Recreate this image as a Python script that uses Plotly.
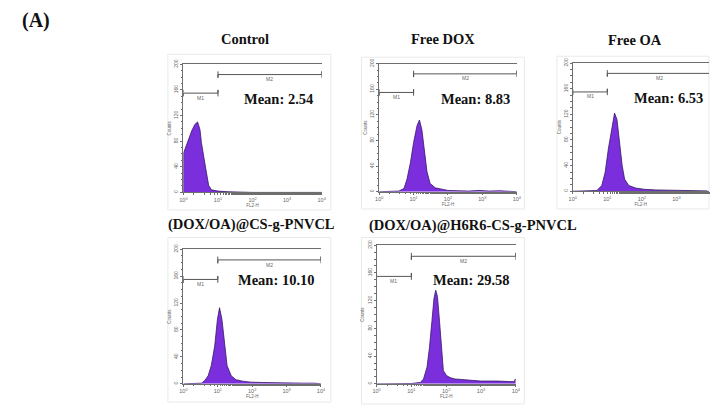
import math
import plotly.graph_objects as go

W, H = 714, 407

# ---- data (log10 FL2-H channel position, counts) ----
titles = ["Control", "Free DOX", "Free OA", "(DOX/OA)@CS-g-PNVCL", "(DOX/OA)@H6R6-CS-g-PNVCL"]
means = ["2.54", "8.83", "6.53", "10.10", "29.58"]

ctrl_log = [0.0, 0.005, 0.05, 0.14, 0.24, 0.33, 0.41, 0.48, 0.52, 0.60, 0.67, 0.73, 0.81, 1.0, 1.29, 1.6, 2.0, 4.0]
ctrl_cnt = [0, 62, 68, 83, 96, 106, 110, 98, 78, 52, 27, 11, 4, 2, 1, 0.5, 0, 0]

dox_log = [0.0, 0.57, 0.72, 0.81, 0.91, 1.0, 1.1, 1.17, 1.24, 1.32, 1.39, 1.48, 1.63, 1.82, 2.0, 2.3, 2.6, 2.9, 3.2, 3.5, 3.8, 4.0]
dox_cnt = [0, 1, 5, 20, 46, 77, 103, 112, 97, 62, 31, 13, 6, 4, 2, 1.5, 1, 2, 1, 1.5, 1, 0]

oa_log = [0.0, 0.7, 0.84, 0.94, 1.03, 1.14, 1.21, 1.28, 1.36, 1.43, 1.5, 1.62, 1.82, 2.06, 2.4, 2.8, 3.2, 3.5, 3.9]
oa_cnt = [0, 1, 9, 30, 66, 102, 122, 112, 76, 40, 19, 9, 5, 3, 2, 1.5, 1, 1, 0.5]

cs_log = [0.0, 0.53, 0.62, 0.72, 0.81, 0.91, 0.99, 1.05, 1.12, 1.2, 1.27, 1.39, 1.53, 1.72, 1.96, 2.3, 2.6, 2.9, 3.2, 3.5, 3.8, 4.0]
cs_cnt = [0, 1, 5, 12, 27, 56, 96, 113, 96, 56, 27, 12, 6, 4, 2.5, 2, 1.5, 2, 1.5, 1, 1, 0]

h6_log = [0.0, 1.0, 1.26, 1.35, 1.45, 1.52, 1.59, 1.65, 1.70, 1.75, 1.81, 1.87, 1.92, 2.01, 2.11, 2.25, 2.44, 2.72, 3.0, 3.48, 3.95, 3.99, 4.0]
h6_cnt = [0, 0.5, 2, 7, 24, 52, 90, 123, 135, 126, 90, 43, 19, 12, 9, 7, 6, 5, 4, 4, 3, 7, 7]

series = [(ctrl_log, ctrl_cnt), (dox_log, dox_cnt), (oa_log, oa_cnt), (cs_log, cs_cnt), (h6_log, h6_cnt)]

# gates (FL2-H limits) and their count level
gate_M1 = [1, 10]
gate_M2 = [10, 10000]
gate_levels = [155, 184]
gate_labels = ["M1", "M2"]

x_tickvals = [1, 10, 100, 1000, 10000]
x_ticktext = ["10<sup>0</sup>", "10<sup>1</sup>", "10<sup>2</sup>", "10<sup>3</sup>", "10<sup>4</sup>"]
y_ticks = [0, 40, 80, 120, 160, 200]

# ---- layout geometry (pixels) ----
boxes = [(181.7, 321.7, 60.2, 190.2),
         (380.0, 519.3, 59.5, 189.5),
         (576.0, 714.0, 59.0, 189.0),
         (181.7, 321.0, 247.8, 384.5),
         (377.3, 518.3, 243.8, 384.5)]
xr_max = [4, 4, 4 * 138 / 140, 4, 4]
frames = [(166, 331, 50, 208), (362, 527, 53, 207), (560, 714, 52, 207),
          (166, 331, 236, 403), (362, 527, 236, 405)]
title_pos = [(244, 35), (445, 35), (639, 36), (251, 223), (475, 224)]
mean_pos = [(315, 95), (514, 95), (710, 94), (317, 279), (514, 279)]


def px(x):
    return x / W


def py(y):
    return 1 - y / H


FILL = "#7b2fdc"
EDGE = "#361866"
AX = "#6e6e6e"
SERIF = "Liberation Serif"
SANS = "Liberation Sans"

fig = go.Figure()
layout_axes = {}
annotations = []
shapes = []

for i, ((xl, cnt), (l, r, t, b)) in enumerate(zip(series, boxes)):
    n = "" if i == 0 else str(i + 1)
    xa, ya = "x" + n, "y" + n
    fig.add_trace(go.Scatter(
        x=[10 ** v for v in xl], y=cnt, mode="lines", fill="tozeroy",
        fillcolor=FILL, line=dict(color=EDGE, width=0.8),
        xaxis=xa, yaxis=ya, showlegend=False, hoverinfo="skip"))
    for (g0, g1), lvl, lab in zip([gate_M1, gate_M2], gate_levels, gate_labels):
        fig.add_trace(go.Scatter(
            x=[g0, g0, g0, g1, g1, g1], y=[lvl + 5, lvl - 5, lvl, lvl, lvl + 5, lvl - 5],
            mode="lines", line=dict(color="#555555", width=1),
            xaxis=xa, yaxis=ya, showlegend=False, hoverinfo="skip"))
        annotations.append(dict(
            x=(math.log10(g0) + math.log10(g1)) / 2, y=lvl - 7,
            xref=xa, yref=ya, text=lab, showarrow=False,
            font=dict(size=5, color="#666", family=SANS), yanchor="middle"))
    layout_axes["xaxis" + n] = dict(
        domain=[px(l), px(r)], anchor=ya, type="log", range=[0, xr_max[i]],
        tickvals=x_tickvals, ticktext=x_ticktext,
        showline=True, linecolor=AX, linewidth=1,
        mirror=True, ticks="outside", ticklen=2, tickcolor=AX,
        tickfont=dict(size=5.5, color="#666", family=SANS),
        minor=dict(ticks="outside", ticklen=1.5, tickcolor=AX, showgrid=False),
        showgrid=False, zeroline=False,
        title=dict(text="FL2-H", font=dict(size=4.5, color="#666", family=SANS), standoff=0))
    layout_axes["yaxis" + n] = dict(
        domain=[py(b), py(t)], anchor=xa, range=[0, 200], tickvals=y_ticks,
        showline=True, linecolor=AX, linewidth=1, ticks="outside", ticklen=2, tickcolor=AX,
        tickangle=-90, tickfont=dict(size=5, color="#666", family=SANS),
        minor=dict(ticks="outside", ticklen=1.5, dtick=10, tickcolor=AX, showgrid=False),
        showgrid=False, zeroline=False,
        title=dict(text="Counts", font=dict(size=4.5, color="#666", family=SANS), standoff=1))
    fl, fr, ft, fb = frames[i]
    shapes.append(dict(type="rect", xref="paper", yref="paper",
                       x0=px(fl), x1=px(fr), y0=py(fb), y1=py(ft),
                       line=dict(color="#e6ebe8", width=1), layer="below"))
    tx, ty = title_pos[i]
    annotations.append(dict(x=px(tx), y=py(ty), xref="paper", yref="paper",
                            text="<b>" + titles[i] + "</b>", showarrow=False,
                            font=dict(size=14.5, color="#111", family=SERIF),
                            xanchor="center", yanchor="middle"))
    mx, my = mean_pos[i]
    annotations.append(dict(x=px(mx), y=py(my), xref="paper", yref="paper",
                            text="<b>Mean: " + means[i] + "</b>", showarrow=False,
                            font=dict(size=14.5, color="#111", family=SERIF),
                            xanchor="right", yanchor="middle"))

annotations.append(dict(x=px(32), y=py(16), xref="paper", yref="paper", text="<b>(A)</b>",
                        showarrow=False, font=dict(size=20, color="#111", family=SERIF),
                        xanchor="center", yanchor="middle"))

fig.update_layout(width=W, height=H, margin=dict(l=0, r=0, t=0, b=0),
                  paper_bgcolor="white", plot_bgcolor="white",
                  annotations=annotations, shapes=shapes, **layout_axes)

fig.write_html("out.html", config={"displayModeBar": False, "staticPlot": True},
               post_script="document.body.style.margin='0';document.body.style.overflow='hidden';")
